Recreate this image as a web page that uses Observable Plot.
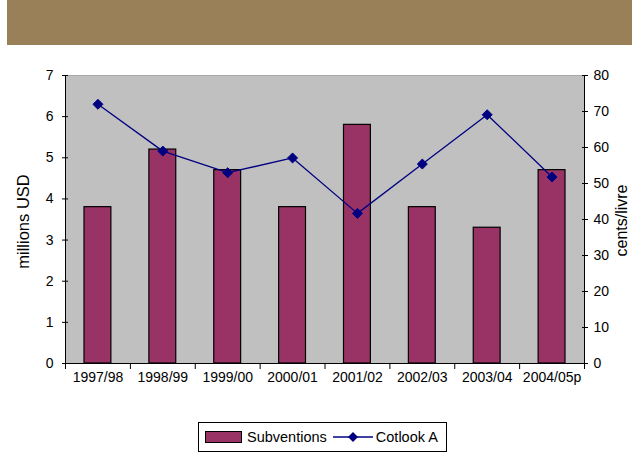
<!DOCTYPE html>
<html><head><meta charset="utf-8">
<script src="https://cdn.jsdelivr.net/npm/d3@7"></script>
<script src="https://cdn.jsdelivr.net/npm/@observablehq/plot@0.6"></script>
<style>
body{margin:0;background:#fff;font-family:"Liberation Sans",Arial,sans-serif;}
#wrap{position:relative;width:632px;height:455px;overflow:hidden}
#chart{position:absolute;left:0;top:0}
#banner{position:absolute;left:7px;top:0;width:625px;height:45px;background:#998058}
#legend{position:absolute;left:198px;top:422px;width:247px;height:28px;border:1px solid #000;background:#fff;display:flex;align-items:center;font-size:14.5px;color:#000;box-sizing:content-box}
#legend .sw{display:inline-block;width:35px;height:10px;background:#993366;border:1px solid #000;margin-left:6px;margin-right:5px}
#legend svg{margin-left:6px;margin-right:3px}
</style></head><body>
<div id="wrap"><div id="chart"></div><div id="banner"></div>
<div id="legend"><span class="sw"></span><span>Subventions</span><svg width="40" height="12"><line x1="0" y1="6" x2="40" y2="6" stroke="#000080" stroke-width="1.3"/><path d="M20 1 L25 6 L20 11 L15 6Z" fill="#000080"/></svg><span>Cotlook A</span></div>
</div>
<script>
const seasons = ["1997/98","1998/99","1999/00","2000/01","2001/02","2002/03","2003/04","2004/05p"];
const subventions = [3.8, 5.2, 4.7, 3.8, 5.8, 3.8, 3.3, 4.7];
const cotlook = [72, 59, 53, 57.1, 41.7, 55.4, 69.1, 51.8];
const leftTicks = [0, 1, 2, 3, 4, 5, 6, 7];
const rightTicks = [0, 10, 20, 30, 40, 50, 60, 70, 80];
const leftMax = 7, rightMax = 80;
const toLeft = v => v * leftMax / rightMax;
const data = seasons.map((s, i) => ({i, season: s, sub: subventions[i], cot: cotlook[i]}));

const chart = Plot.plot({
  width: 632, height: 455,
  marginLeft: 65, marginRight: 48, marginTop: 75, marginBottom: 92,
  x: {domain: [0, seasons.length]},
  y: {domain: [0, leftMax]},
  style: {fontFamily: '"Liberation Sans", Arial, sans-serif', fontSize: "14px", color: "#000", background: "transparent"},
  marks: [
    Plot.frame({fill: "#c0c0c0", stroke: "#a8a8a8"}),
    Plot.rectY(data, {x1: "i", x2: d => d.i + 1, y: "sub", fill: "#993366", stroke: "#000", strokeWidth: 1.2, insetLeft: 19, insetRight: 19}),
    Plot.line(data, {x: d => d.i + 0.5, y: d => toLeft(d.cot), stroke: "#000080", strokeWidth: 1.3}),
    Plot.dot(data, {x: d => d.i + 0.5, y: d => toLeft(d.cot), symbol: "diamond2", r: 4.5, fill: "#000080", stroke: "#000080", strokeWidth: 1}),
    Plot.ruleX([0, seasons.length], {stroke: "#000"}),
    Plot.ruleY([0], {stroke: "#000"}),
    Plot.axisY(leftTicks, {anchor: "left", tickSize: 6, dx: 3, tickPadding: 9, label: null}),
    Plot.axisY(rightTicks.map(toLeft), {anchor: "right", tickSize: 6, dx: -3, tickPadding: 6, tickFormat: d => Math.round(d * rightMax / leftMax), label: null}),
    Plot.axisX(d3.range(0, seasons.length + 1), {tickSize: 6, tickFormat: () => "", label: null}),
    Plot.axisX(data.map(d => d.i + 0.5), {tickSize: 0, tickPadding: 9, tickFormat: d => seasons[Math.floor(d)], label: null}),
    Plot.text(["millions USD"], {frameAnchor: "left", dx: -42, dy: 2, rotate: -90, textAnchor: "middle", lineAnchor: "middle", fontSize: 16.5}),
    Plot.text(["cents/livre"], {frameAnchor: "right", dx: 37, dy: 1, rotate: -90, textAnchor: "middle", lineAnchor: "middle", fontSize: 16})
  ]
});
document.getElementById("chart").appendChild(chart);
</script>
</body></html>
